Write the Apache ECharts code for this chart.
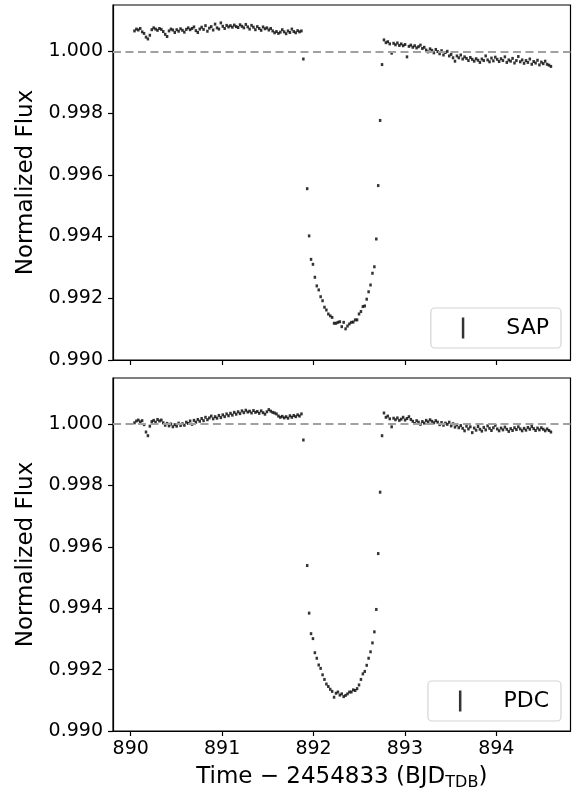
<!DOCTYPE html>
<html><head><meta charset="utf-8">
<script src="https://cdn.jsdelivr.net/npm/echarts@6/dist/echarts.min.js"></script>
<style>html,body{margin:0;padding:0;background:#fff}#c{width:577px;height:793px}</style>
</head><body><div id="c"></div>
<script>
const time = [
890.041,890.062,890.083,890.104,890.125,890.146,890.167,890.188,890.209,890.230,
890.251,890.272,890.293,890.314,890.335,890.356,890.377,890.398,890.419,890.440,
890.461,890.482,890.503,890.524,890.545,890.566,890.587,890.608,890.629,890.650,
890.671,890.692,890.713,890.734,890.755,890.776,890.797,890.818,890.839,890.860,
890.881,890.902,890.923,890.944,890.965,890.986,891.007,891.028,891.049,891.070,
891.091,891.112,891.133,891.154,891.175,891.196,891.217,891.238,891.259,891.280,
891.301,891.322,891.343,891.364,891.385,891.406,891.427,891.448,891.469,891.490,
891.511,891.532,891.553,891.574,891.595,891.616,891.637,891.658,891.679,891.700,
891.721,891.742,891.763,891.784,891.805,891.826,891.847,891.868,
891.889,
891.931,891.952,891.973,891.994,892.015,892.036,892.057,892.078,892.099,892.120,
892.141,892.162,892.183,892.204,892.225,892.246,892.267,892.288,892.309,892.330,
892.351,892.372,892.393,892.414,892.435,892.456,892.477,892.498,892.519,892.540,
892.561,892.582,892.603,892.624,892.645,892.666,892.687,892.708,892.729,892.750,
892.771,892.792,892.813,892.834,892.855,892.876,892.897,892.918,892.939,892.960,
892.981,893.002,893.023,893.044,893.065,893.086,893.107,893.128,893.149,893.170,
893.191,893.212,893.233,893.254,893.275,893.296,893.317,893.338,893.359,893.380,
893.401,893.422,893.443,893.464,893.485,893.506,893.527,893.548,893.569,893.590,
893.611,893.632,893.653,893.674,893.695,893.716,893.737,893.758,893.779,893.800,
893.821,893.842,893.863,893.884,893.905,893.926,893.947,893.968,893.989,894.010,
894.031,894.052,894.073,894.094,894.115,894.136,894.157,894.178,894.199,894.220,
894.241,894.262,894.283,894.304,894.325,894.346,894.367,894.388,894.409,894.430,
894.451,894.472,894.493,894.514,894.535,894.556,894.577,894.598
];
const sapFlux = [
1.00066,1.00072,1.00069,1.00074,1.00063,1.00058,1.00046,1.00040,1.00052,1.00070,
1.00076,1.00072,1.00068,1.00074,1.00071,1.00064,1.00055,1.00048,1.00066,1.00072,
1.00069,1.00061,1.00070,1.00065,1.00073,1.00068,1.00062,1.00071,1.00076,1.00070,
1.00074,1.00079,1.00067,1.00061,1.00072,1.00078,1.00071,1.00083,1.00065,1.00075,
1.00080,1.00069,1.00088,1.00076,1.00072,1.00092,1.00081,1.00074,1.00084,1.00079,
1.00083,1.00078,1.00085,1.00080,1.00077,1.00086,1.00081,1.00076,1.00087,1.00079,
1.00072,1.00084,1.00078,1.00070,1.00080,1.00074,1.00068,1.00079,1.00073,1.00076,
1.00069,1.00074,1.00066,1.00060,1.00064,1.00058,1.00062,1.00070,1.00063,1.00057,
1.00066,1.00061,1.00072,1.00064,1.00060,1.00067,1.00063,1.00066,
0.99975,
0.99555,0.99402,0.99326,0.99310,0.99268,0.99240,0.99227,0.99205,0.99192,0.99171,
0.99162,0.99149,0.99143,0.99138,0.99119,0.99119,0.99122,0.99124,0.99108,0.99122,
0.99101,0.99110,0.99117,0.99122,0.99123,0.99130,0.99130,0.99149,0.99157,0.99173,
0.99175,0.99197,0.99221,0.99243,0.99281,0.99302,0.99392,0.99565,0.99776,0.99957,
1.00037,1.00028,1.00031,1.00024,0.99994,1.00026,1.00021,1.00027,1.00019,1.00024,
1.00018,1.00022,0.99982,1.00016,1.00020,1.00013,1.00018,1.00011,1.00015,1.00020,
1.00009,1.00013,1.00004,0.99998,1.00008,1.00003,0.99995,1.00006,0.99999,0.99992,
1.00002,0.99988,0.99996,1.00000,0.99985,0.99990,0.99979,0.99968,0.99985,0.99979,
0.99988,0.99975,0.99982,0.99977,0.99970,0.99980,0.99974,0.99968,0.99976,0.99971,
0.99964,0.99975,0.99970,0.99985,0.99972,0.99966,0.99978,0.99969,0.99981,0.99974,
0.99967,0.99976,0.99970,0.99982,0.99964,0.99972,0.99968,0.99977,0.99962,0.99970,
0.99983,0.99966,0.99972,0.99961,0.99970,0.99964,0.99975,0.99958,0.99967,0.99962,
0.99971,0.99956,0.99965,0.99960,0.99968,0.99958,0.99955,0.99951
];
const pdcFlux = [
1.00004,1.00010,1.00013,1.00007,1.00011,0.99998,0.99974,0.99962,0.99993,1.00008,
1.00012,1.00006,1.00015,1.00010,1.00013,1.00004,0.99996,1.00002,0.99994,1.00000,
0.99991,0.99998,0.99993,1.00003,0.99995,1.00001,0.99996,1.00006,1.00002,1.00010,
0.99999,1.00012,1.00006,1.00015,1.00009,1.00018,1.00011,1.00022,1.00014,1.00020,
1.00026,1.00017,1.00024,1.00019,1.00028,1.00021,1.00030,1.00024,1.00033,1.00027,
1.00035,1.00029,1.00038,1.00032,1.00040,1.00034,1.00043,1.00037,1.00045,1.00039,
1.00042,1.00036,1.00044,1.00038,1.00041,1.00035,1.00043,1.00037,1.00032,1.00040,
1.00047,1.00042,1.00038,1.00036,1.00033,1.00026,1.00022,1.00025,1.00020,1.00024,
1.00019,1.00027,1.00022,1.00028,1.00024,1.00030,1.00026,1.00033,
0.99948,
0.99539,0.99384,0.99317,0.99301,0.99255,0.99237,0.99215,0.99204,0.99183,0.99168,
0.99153,0.99145,0.99136,0.99129,0.99110,0.99123,0.99127,0.99117,0.99121,0.99112,
0.99116,0.99121,0.99127,0.99127,0.99134,0.99132,0.99138,0.99150,0.99168,0.99186,
0.99194,0.99214,0.99237,0.99258,0.99287,0.99323,0.99396,0.99578,0.99778,0.99962,
1.00036,1.00022,1.00026,1.00017,0.99991,1.00019,1.00014,1.00020,1.00012,1.00016,
1.00022,1.00013,1.00018,1.00024,1.00015,1.00009,1.00002,1.00011,1.00006,0.99999,
1.00008,1.00003,1.00012,1.00007,1.00014,1.00009,1.00004,1.00011,1.00006,0.99998,
1.00005,0.99996,1.00003,0.99999,1.00006,0.99994,1.00001,0.99990,0.99997,0.99988,
0.99995,0.99986,0.99978,0.99993,0.99984,0.99991,0.99972,0.99987,0.99980,0.99992,
0.99983,0.99977,0.99989,0.99981,0.99994,0.99986,0.99979,0.99988,0.99996,0.99984,
0.99978,0.99987,0.99981,0.99990,0.99983,0.99976,0.99985,0.99979,0.99988,0.99982,
0.99991,0.99984,0.99978,0.99986,0.99980,0.99989,0.99983,0.99992,0.99985,0.99979,
0.99987,0.99981,0.99988,0.99983,0.99978,0.99984,0.99979,0.99974
];
const seriesNames = ['SAP', 'PDC'];
const xTicks = [890, 891, 892, 893, 894];
const yTicks = [0.990, 0.992, 0.994, 0.996, 0.998, 1.000];
const refLevel = 1.0;

const FONT = 'DejaVu Sans';
const chart = echarts.init(document.getElementById('c'), null, {renderer: 'canvas'});

function makeX(idx, showLabels) {
  return {
    type: 'value', gridIndex: idx, min: 889.806, max: 894.812,
    axisLine: {show: true, onZero: false, lineStyle: {color: '#000', width: 1.2}},
    axisTick: {show: true, customValues: xTicks, length: 5, lineStyle: {color: '#000', width: 1.2}},
    axisLabel: {show: showLabels, customValues: xTicks, margin: 9, color: '#000', fontFamily: FONT, fontSize: 19,
      formatter: v => String(Math.round(v))},
    splitLine: {show: false},
    name: showLabels ? '{m|Time − 2454833 (BJD}{s|TDB}{m|)}' : '',
    nameLocation: 'middle', nameGap: 35,
    nameTextStyle: {color: '#000', fontFamily: FONT, fontSize: 23,
      rich: {
        m: {fontFamily: FONT, fontSize: 23, color: '#000', verticalAlign: 'top', lineHeight: 25, padding: [0, 0, 3, 0]},
        s: {fontFamily: FONT, fontSize: 16, color: '#000', verticalAlign: 'bottom', lineHeight: 16}
      }}
  };
}
function makeY(idx) {
  return {
    type: 'value', gridIndex: idx, min: 0.990, max: 1.0015,
    axisLine: {show: true, onZero: false, lineStyle: {color: '#000', width: 1.2}},
    axisTick: {show: true, customValues: yTicks, length: 5, lineStyle: {color: '#000', width: 1.2}},
    axisLabel: {customValues: yTicks, margin: 10, color: '#000', fontFamily: FONT, fontSize: 19,
      formatter: v => v.toFixed(3)},
    splitLine: {show: false},
    name: 'Normalized Flux', nameLocation: 'middle', nameRotate: 90, nameGap: 69,
    nameTextStyle: {color: '#000', fontFamily: FONT, fontSize: 23}
  };
}
function makeSeries(idx, flux) {
  return {
    name: seriesNames[idx], type: 'scatter', xAxisIndex: idx, yAxisIndex: idx,
    data: time.map((t, i) => [t, flux[i]]),
    symbol: 'rect', symbolSize: [2.5, 3], itemStyle: {color: '#000'},
    silent: true, z: 3,
    markLine: {silent: true, symbol: 'none', z: 4, label: {show: false},
      lineStyle: {color: '#a0a0a0', type: [8, 4.5], width: 2},
      data: [{yAxis: refLevel}]}
  };
}
function makeLegend(idx, top) {
  return {
    data: [seriesNames[idx]], right: 16, top: top, orient: 'vertical',
    icon: 'rect', itemWidth: 2.5, itemHeight: 21,
    padding: [9, 12, 9, 31],
    backgroundColor: 'rgba(255,255,255,0.8)', borderColor: '#d4d4d4', borderWidth: 1.2, borderRadius: 4,
    textStyle: {fontFamily: FONT, fontSize: 22, color: '#000', padding: [0, 0, 0, 37]},
    selectedMode: false
  };
}
chart.setOption({
  animation: false,
  backgroundColor: '#fff',
  grid: [
    {left: 113, top: 5, width: 457.5, height: 355, show: true, borderColor: '#000', borderWidth: 1.2},
    {left: 113, top: 378, width: 457.5, height: 355, show: true, borderColor: '#000', borderWidth: 1.2}
  ],
  xAxis: [makeX(0, false), makeX(1, true)],
  yAxis: [makeY(0), makeY(1)],
  legend: [makeLegend(0, 308), makeLegend(1, 681)],
  series: [makeSeries(0, sapFlux), makeSeries(1, pdcFlux)]
});
</script></body></html>
